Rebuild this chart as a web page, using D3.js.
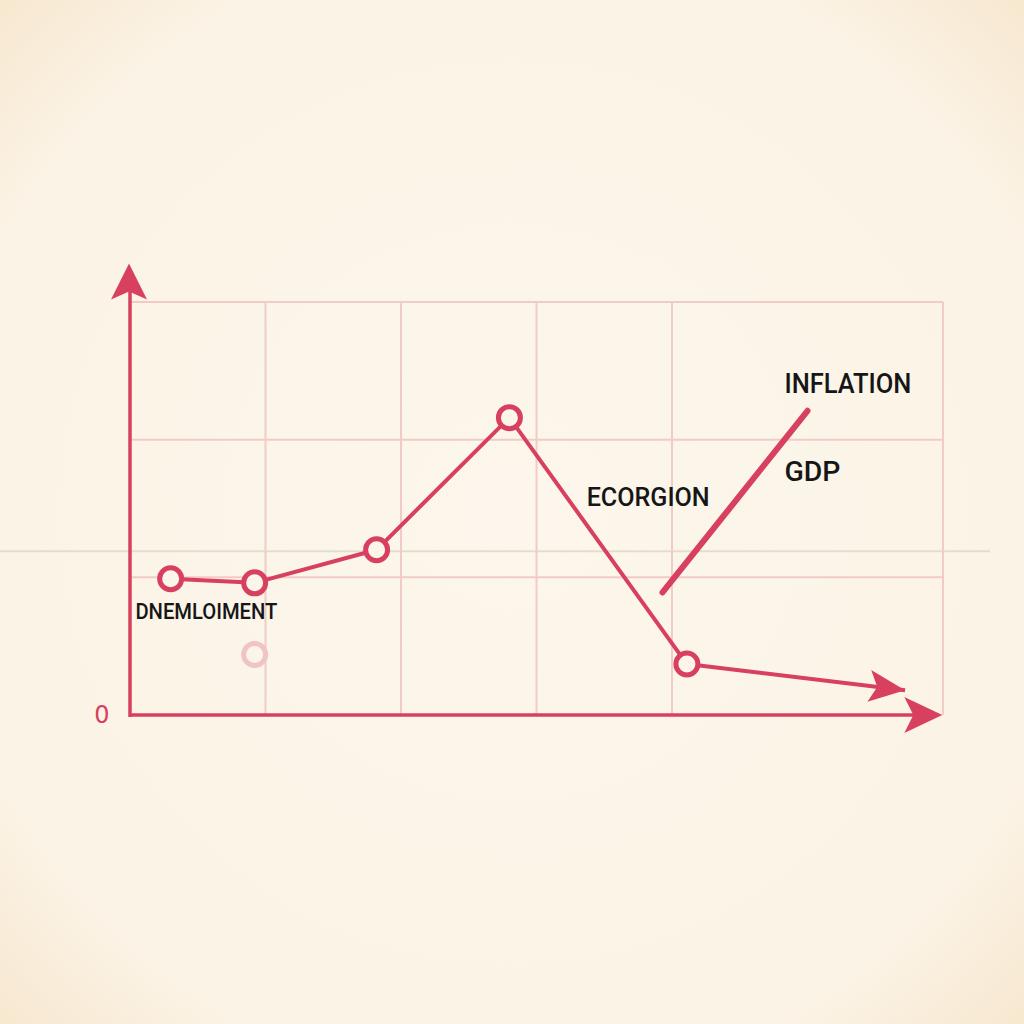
<!DOCTYPE html>
<html><head><meta charset="utf-8">
<script src="https://cdn.jsdelivr.net/npm/d3@7"></script>
<style>html,body{margin:0;padding:0;background:#fbf4e6;}svg{display:block;}</style>
</head><body>
<script>
// ---- data ----
const seriesX = [0.30, 0.92, 1.82, 2.80, 4.11];
const seriesY = [0.99, 0.96, 1.20, 2.16, 0.37];
const seriesEndX = [5.72];
const seriesEndY = [0.18];
const ghostX = [0.92];
const ghostY = [0.44];
const gdpX = [3.93, 5.00];
const gdpY = [0.89, 2.21];
const gridXTicks = [1, 2, 3, 4, 6];
const gridYTicks = [1, 2, 3];
const yTickLabels = ["0"];
const labelTexts = ["DNEMLOIMENT", "ECORGION", "INFLATION", "GDP"];
const labelX = [0.04, 3.37, 4.83, 4.83];
const labelY = [0.70, 1.52, 2.34, 1.70];

const W = 1024, H = 1024;
const red = "#d8405f";
const svg = d3.select("body").append("svg").attr("width", W).attr("height", H);

// background with soft vignette
const defs = svg.append("defs");
const rg = defs.append("radialGradient").attr("id", "bg").attr("cx", "50%").attr("cy", "50%").attr("r", "75%");
rg.append("stop").attr("offset", "0%").attr("stop-color", "#fcf6ec");
rg.append("stop").attr("offset", "75%").attr("stop-color", "#fbf3e5");
rg.append("stop").attr("offset", "100%").attr("stop-color", "#f6e4c9");
svg.append("rect").attr("width", W).attr("height", H).attr("fill", "url(#bg)");

const x = d3.scaleLinear().domain([0, 6]).range([130, 943]);
const y = d3.scaleLinear().domain([0, 3]).range([715, 302]);

// faint grey horizontal line
svg.append("line").attr("x1", 0).attr("x2", 990).attr("y1", y(1.19)).attr("y2", y(1.19))
  .attr("stroke", "#e4ddcf").attr("stroke-width", 2);

// grid
const g = svg.append("g");
g.selectAll(".gx").data(gridXTicks).join("line")
  .attr("x1", d => x(d)).attr("x2", d => x(d)).attr("y1", y(0)).attr("y2", y(3))
  .attr("stroke", "#f2cbc7").attr("stroke-width", 2);
g.selectAll(".gy").data(gridYTicks).join("line")
  .attr("x1", x(0)).attr("x2", x(6)).attr("y1", d => y(d)).attr("y2", d => y(d))
  .attr("stroke", "#f2cbc7").attr("stroke-width", 2);

// axes
svg.append("line").attr("x1", x(0)).attr("x2", x(0)).attr("y1", y(0) + 2).attr("y2", y(3.15))
  .attr("stroke", red).attr("stroke-width", 3.5);
svg.append("line").attr("x1", x(0)).attr("x2", x(5.85)).attr("y1", y(0)).attr("y2", y(0))
  .attr("stroke", red).attr("stroke-width", 3.5);

function arrowHead(tx, ty, angle, len, half, notch) {
  const p = [[0, 0], [-len, -half], [-len + notch, 0], [-len, half]];
  const c = Math.cos(angle), s = Math.sin(angle);
  const pts = p.map(([a, b]) => [tx + a * c - b * s, ty + a * s + b * c]);
  svg.append("path").attr("d", "M" + pts.map(q => q.join(",")).join("L") + "Z").attr("fill", red);
}
arrowHead(x(0) - 1, y(3.28), -Math.PI / 2, 36, 18, 8);
arrowHead(x(5.995), y(0), 0, 38, 18, 9);

// y tick label
svg.selectAll(".yt").data(yTickLabels).join("text")
  .attr("x", 102).attr("y", y(0)).attr("dy", "0.35em").attr("text-anchor", "middle")
  .attr("font-family", "DejaVu Sans, sans-serif").attr("font-size", 24).attr("fill", red)
  .text(d => d);

// series line
const pts = seriesX.map((d, i) => [x(d), y(seriesY[i])]);
const endPt = [x(seriesEndX[0]), y(seriesEndY[0])];
svg.append("path").attr("d", d3.line()(pts.concat([endPt])))
  .attr("fill", "none").attr("stroke", red).attr("stroke-width", 4).attr("stroke-linejoin", "round");
const last = pts[pts.length - 1];
arrowHead(endPt[0], endPt[1], Math.atan2(endPt[1] - last[1], endPt[0] - last[0]), 36, 16, 8);

// GDP segment
svg.append("path").attr("d", d3.line()(gdpX.map((d, i) => [x(d), y(gdpY[i])])))
  .attr("fill", "none").attr("stroke", red).attr("stroke-width", 6).attr("stroke-linecap", "round");

// ghost marker
svg.selectAll(".ghost").data(ghostX).join("circle")
  .attr("cx", d => x(d)).attr("cy", (d, i) => y(ghostY[i])).attr("r", 11)
  .attr("fill", "none").attr("stroke", "#f0c4c4").attr("stroke-width", 5);

// markers
svg.selectAll(".pt").data(pts).join("circle")
  .attr("cx", d => d[0]).attr("cy", d => d[1]).attr("r", 11)
  .attr("fill", "#fcf6ea").attr("stroke", red).attr("stroke-width", 5);

// labels
const sizes = [22, 26, 28, 28];
svg.selectAll(".lbl").data(labelTexts).join("text")
  .attr("x", (d, i) => x(labelX[i])).attr("y", (d, i) => y(labelY[i]))
  .attr("font-family", "Roboto, 'DejaVu Sans', sans-serif").attr("font-weight", 500)
  .attr("font-size", (d, i) => sizes[i]).attr("fill", "#161616")
  .attr("textLength", (d, i) => [142, 123, 127, 56][i]).attr("lengthAdjust", "spacingAndGlyphs")
  .text(d => d);
</script>
</body></html>
